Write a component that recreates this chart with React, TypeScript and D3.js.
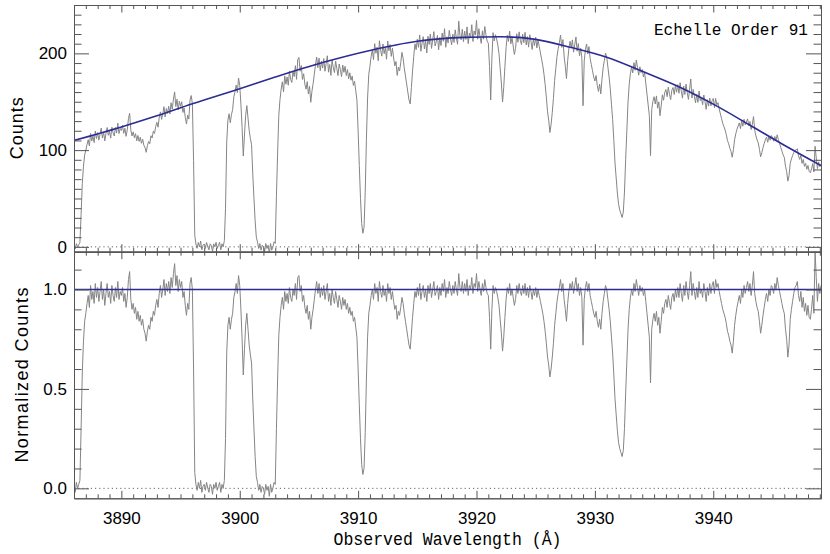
import { useEffect, useRef } from "react";
import * as d3 from "d3";

const WIDTH = 830;
const HEIGHT = 554;

// wavelength grid of the extracted order (Angstrom)
const waveStart = 3886.0;
const waveStep = 0.1;

// normalized counts, one row per Angstrom (3886 ... 3949), 10 samples per row
const normRows: number[][] = [
  [0.01, -0.02, 0.03, 0.0, 0.02, 0.04, 0.3, 0.58, 0.74, 0.84], // 3886
  [0.88, 0.93, 0.97, 0.91, 1.02, 0.95, 0.99, 0.93, 1.03, 0.96],
  [1.01, 0.94, 0.99, 1.04, 0.95, 1.0, 0.92, 0.98, 1.03, 0.96],
  [0.99, 0.93, 1.02, 0.97, 0.94, 1.01, 0.96, 1.04, 0.95, 0.99],
  [0.97, 1.01, 0.94, 0.98, 0.91, 0.96, 1.05, 1.09, 0.95, 0.9], // 3890
  [0.93, 0.88, 0.91, 0.85, 0.89, 0.84, 0.87, 0.82, 0.85, 0.8],
  [0.78, 0.74, 0.79, 0.82, 0.8, 0.86, 0.84, 0.89, 0.87, 0.92],
  [0.95, 0.91, 0.98, 1.02, 0.96, 1.0, 1.05, 0.97, 1.03, 0.99],
  [1.04, 0.98, 1.06, 1.01, 1.08, 1.13, 1.02, 1.07, 0.99, 1.05],
  [1.01, 1.04, 0.96, 0.99, 0.92, 0.87, 0.93, 0.9, 1.03, 1.06], // 3895
  [1.0, 0.6, 0.08, 0.02, -0.01, 0.03, 0.0, 0.04, -0.02, 0.01],
  [0.02, -0.01, 0.03, 0.0, -0.02, 0.02, 0.01, -0.03, 0.02, 0.0],
  [0.03, -0.01, 0.01, 0.03, -0.02, 0.02, 0.0, 0.04, 0.25, 0.68],
  [0.82, 0.86, 0.8, 0.85, 0.88, 0.96, 0.99, 1.03, 0.98, 1.07],
  [1.02, 0.9, 0.75, 0.57, 0.7, 0.82, 0.88, 0.8, 0.72, 0.67], // 3900
  [0.63, 0.45, 0.3, 0.16, 0.06, 0.03, -0.01, 0.02, -0.02, 0.01],
  [0.0, -0.03, 0.02, -0.01, 0.01, -0.04, 0.02, -0.02, 0.0, 0.03],
  [0.02, 0.3, 0.55, 0.77, 0.86, 0.92, 0.96, 0.9, 0.99, 0.94],
  [0.98, 0.93, 1.01, 0.96, 0.94, 1.0, 0.97, 1.03, 0.95, 1.06],
  [1.07, 0.99, 1.02, 0.94, 0.97, 0.91, 0.88, 0.92, 0.85, 0.89], // 3905
  [0.8, 0.86, 0.9, 0.95, 1.0, 1.04, 0.98, 1.03, 0.96, 1.01],
  [0.97, 1.02, 0.95, 0.99, 1.03, 0.94, 0.98, 0.92, 1.0, 0.96],
  [0.93, 0.99, 0.95, 0.91, 0.97, 0.94, 0.9, 0.96, 0.92, 0.95],
  [0.9, 0.93, 0.88, 0.91, 0.87, 0.89, 0.84, 0.86, 0.81, 0.76],
  [0.6, 0.42, 0.25, 0.12, 0.07, 0.1, 0.28, 0.55, 0.76, 0.88], // 3910
  [0.92, 0.97, 1.0, 0.95, 1.03, 0.98, 1.01, 0.94, 1.04, 0.99],
  [0.96, 1.02, 0.97, 1.0, 0.94, 1.03, 0.98, 1.01, 0.95, 0.99],
  [0.94, 0.9, 0.92, 0.85, 0.89, 0.87, 0.91, 0.96, 0.93, 0.88],
  [0.84, 0.8, 0.76, 0.72, 0.7, 0.78, 0.86, 0.93, 0.99, 0.96],
  [1.01, 0.97, 1.03, 0.95, 0.99, 1.02, 0.96, 1.0, 0.94, 1.02], // 3915
  [0.98, 1.03, 0.96, 1.0, 1.04, 0.97, 0.99, 1.02, 0.95, 1.01],
  [0.97, 1.03, 0.99, 1.05, 0.96, 1.01, 0.98, 1.04, 1.0, 0.97],
  [1.02, 0.98, 1.04, 1.0, 0.97, 1.08, 1.01, 0.99, 1.04, 0.98],
  [1.03, 0.99, 1.05, 0.97, 1.02, 1.0, 1.06, 0.98, 1.03, 1.01],
  [1.08, 0.99, 1.04, 1.0, 0.97, 1.03, 0.99, 1.05, 1.01, 0.98], // 3920
  [0.97, 0.86, 0.7, 0.9, 1.02, 0.98, 1.01, 0.99, 0.96, 0.92],
  [0.85, 0.78, 0.69, 0.76, 0.86, 0.95, 1.01, 0.98, 1.03, 0.97],
  [1.0, 0.96, 0.92, 0.95, 1.02, 0.98, 1.03, 0.99, 0.97, 1.02],
  [0.98, 1.03, 0.97, 1.01, 0.96, 1.02, 0.99, 0.95, 1.0, 0.97],
  [1.01, 0.96, 1.0, 0.97, 0.94, 0.91, 0.88, 0.84, 0.79, 0.73], // 3925
  [0.66, 0.62, 0.56, 0.6, 0.66, 0.73, 0.82, 0.88, 0.94, 0.98],
  [1.01, 1.05, 0.99, 1.03, 0.95, 0.9, 0.84, 0.93, 0.99, 1.03],
  [1.0, 1.04, 0.98, 1.02, 1.06, 0.99, 1.03, 0.97, 1.01, 0.96],
  [0.72, 0.95, 1.01, 1.04, 0.99, 1.03, 0.97, 0.94, 0.91, 0.88],
  [0.86, 0.89, 0.84, 0.81, 0.85, 0.8, 0.88, 0.94, 0.98, 1.02], // 3930
  [1.0, 0.95, 0.9, 0.84, 0.76, 0.68, 0.57, 0.45, 0.37, 0.29],
  [0.23, 0.2, 0.18, 0.16, 0.19, 0.3, 0.48, 0.64, 0.8, 0.9],
  [0.96, 1.0, 0.97, 1.03, 0.99, 1.05, 1.01, 0.97, 1.02, 0.99],
  [1.01, 0.97, 1.0, 0.94, 0.88, 0.82, 0.76, 0.53, 0.8, 0.85],
  [0.88, 0.84, 0.89, 0.82, 0.86, 0.78, 0.84, 0.91, 0.88, 0.93], // 3935
  [0.95, 0.91, 0.97, 0.93, 0.9, 0.96, 0.98, 0.94, 1.0, 0.96],
  [1.01, 0.96, 1.03, 0.98, 0.94, 1.02, 0.97, 1.04, 0.99, 0.95],
  [1.02, 1.09, 0.97, 1.03, 0.99, 0.95, 1.01, 0.96, 1.04, 0.98],
  [1.0, 0.96, 1.03, 0.99, 0.94, 1.01, 0.97, 1.03, 0.98, 1.02],
  [1.04, 0.98, 1.05, 1.01, 1.03, 0.99, 0.96, 0.93, 0.9, 0.88], // 3940
  [0.86, 0.83, 0.79, 0.77, 0.74, 0.72, 0.68, 0.74, 0.82, 0.87],
  [0.91, 0.94, 0.97, 0.93, 1.0, 0.96, 1.02, 0.98, 1.01, 1.04],
  [0.99, 1.03, 0.97, 1.02, 1.09, 0.98, 0.94, 0.91, 0.89, 0.84],
  [0.78, 0.82, 0.87, 0.91, 0.95, 0.98, 0.94, 1.0, 0.97, 1.02],
  [1.01, 0.98, 1.03, 1.0, 1.06, 1.02, 0.99, 0.96, 0.93, 0.9], // 3945
  [0.88, 0.8, 0.75, 0.66, 0.72, 0.85, 0.9, 0.94, 0.98, 1.01],
  [1.02, 1.04, 0.97, 0.94, 0.99, 0.91, 0.96, 0.89, 0.93, 0.87],
  [0.92, 0.86, 0.85, 0.9, 0.97, 0.88, 1.19, 1.06, 0.94, 1.03],
  [0.98, 1.02], // 3949
];

// continuum fit (counts)
const contWave = [3886, 3890, 3893, 3896, 3900, 3903, 3907, 3911, 3915, 3919, 3922, 3925, 3928, 3931, 3934, 3937, 3940, 3943, 3946, 3949.1];
const contCounts = [110, 124, 135.5, 148, 163.5, 175.5, 190.5, 203, 212.5, 216.5, 217.2, 214.5, 206, 196, 181.5, 166, 147.5, 126.5, 105, 84];

// axis ticks
const waveMajorTicks = [3890, 3900, 3910, 3920, 3930, 3940];
const countsMajorTicks = [0, 100, 200];
const normMajorTicks = [0, 0.5, 1.0];

const GRAY = "#858585";
const BLUE = "#2c2c96";
const AXIS = "#555555";
const SANS = "'Liberation Sans', Arial, Helvetica, sans-serif";
const MONO = "'Liberation Mono', 'Courier New', monospace";

export default function App() {
  const ref = useRef<SVGSVGElement>(null);

  useEffect(() => {
    const svg = d3.select(ref.current);
    svg.selectAll("*").remove();

    const left = 74;
    const right = 821;
    const top = 5;
    const mid = 251.7;
    const bottom = 498.3;

    const x = d3.scaleLinear().domain([3886, 3949.1]).range([left, right]);
    const yTop = d3.scaleLinear().domain([-5, 250]).range([mid, top]);
    const yBot = d3.scaleLinear().domain([-0.05, 1.19]).range([bottom, mid]);

    const norm = normRows.flat();
    const wave = norm.map((_, i) => waveStart + i * waveStep);
    const cont = d3.scaleLinear().domain(contWave).range(contCounts);
    const counts = norm.map((v, i) => v * cont(wave[i]));

    // clip each panel
    const defs = svg.append("defs");
    defs.append("clipPath").attr("id", "clip-top")
      .append("rect").attr("x", left).attr("y", top).attr("width", right - left).attr("height", mid - top);
    defs.append("clipPath").attr("id", "clip-bot")
      .append("rect").attr("x", left).attr("y", mid).attr("width", right - left).attr("height", bottom - mid);

    // dotted zero lines
    [yTop(0), yBot(0)].forEach((yy) => {
      svg.append("line")
        .attr("x1", left).attr("x2", right)
        .attr("y1", yy).attr("y2", yy)
        .attr("stroke", "#666")
        .attr("stroke-width", 1)
        .attr("stroke-dasharray", "1.2,3");
    });

    // top panel: raw counts + continuum
    svg.append("path")
      .datum(counts)
      .attr("clip-path", "url(#clip-top)")
      .attr("fill", "none")
      .attr("stroke", GRAY)
      .attr("stroke-width", 1)
      .attr("d", d3.line<number>().x((_, i) => x(wave[i])).y((d) => yTop(d)));

    svg.append("path")
      .datum(contWave)
      .attr("clip-path", "url(#clip-top)")
      .attr("fill", "none")
      .attr("stroke", BLUE)
      .attr("stroke-width", 1.6)
      .attr("d", d3.line<number>().x((d) => x(d)).y((_, i) => yTop(contCounts[i])).curve(d3.curveMonotoneX));

    // bottom panel: normalized counts + unity
    svg.append("path")
      .datum(norm)
      .attr("clip-path", "url(#clip-bot)")
      .attr("fill", "none")
      .attr("stroke", GRAY)
      .attr("stroke-width", 1)
      .attr("d", d3.line<number>().x((_, i) => x(wave[i])).y((d) => yBot(d)));

    svg.append("line")
      .attr("x1", left).attr("x2", right)
      .attr("y1", yBot(1)).attr("y2", yBot(1))
      .attr("stroke", BLUE)
      .attr("stroke-width", 1.6);

    // axes (ticks point inward on all four sides)
    const waveMinor = d3.range(3886, 3950, 1).filter((d) => d % 10 !== 0);

    function panelAxes(y: d3.ScaleLinear<number, number>, major: number[], minor: number[], fmt: (d: any) => string, xLabels: boolean) {
      const [y0, y1] = y.range();
      const g = svg.append("g");
      const none = () => "";

      g.append("g").attr("transform", `translate(0,${y0})`)
        .call(d3.axisBottom(x).tickValues(waveMinor).tickSize(-4).tickSizeOuter(0).tickFormat(none));
      g.append("g").attr("transform", `translate(0,${y0})`)
        .call(d3.axisBottom(x).tickValues(waveMajorTicks).tickSize(-7.5).tickSizeOuter(0).tickPadding(14)
          .tickFormat(xLabels ? (d: any) => d3.format("d")(d) : none));
      g.append("g").attr("transform", `translate(0,${y1})`)
        .call(d3.axisTop(x).tickValues(waveMinor).tickSize(-4).tickSizeOuter(0).tickFormat(none));
      g.append("g").attr("transform", `translate(0,${y1})`)
        .call(d3.axisTop(x).tickValues(waveMajorTicks).tickSize(-7.5).tickSizeOuter(0).tickFormat(none));

      g.append("g").attr("transform", `translate(${left},0)`)
        .call(d3.axisLeft(y).tickValues(minor).tickSize(-7.5).tickSizeOuter(0).tickFormat(none));
      g.append("g").attr("transform", `translate(${left},0)`)
        .call(d3.axisLeft(y).tickValues(major).tickSize(-15).tickSizeOuter(0).tickPadding(7).tickFormat(fmt));
      g.append("g").attr("transform", `translate(${right},0)`)
        .call(d3.axisRight(y).tickValues(minor).tickSize(-7.5).tickSizeOuter(0).tickFormat(none));
      g.append("g").attr("transform", `translate(${right},0)`)
        .call(d3.axisRight(y).tickValues(major).tickSize(-15).tickSizeOuter(0).tickFormat(none));

      g.selectAll(".domain, .tick line").attr("stroke", AXIS).attr("stroke-width", 1);
      g.selectAll("text").attr("fill", "#000").style("font-family", SANS).style("font-size", "17px");
    }

    const countsMinor = d3.range(0, 251, 10).filter((d) => d % 100 !== 0);
    const normMinor = d3.range(0, 12).map((d) => d / 10).filter((d) => d !== 0 && d !== 0.5 && d !== 1);

    panelAxes(yTop, countsMajorTicks, countsMinor, (d) => d3.format("d")(d), false);
    panelAxes(yBot, normMajorTicks, normMinor, (d) => d3.format(".1f")(d), true);

    // titles
    svg.append("text")
      .attr("x", 808).attr("y", 35)
      .attr("text-anchor", "end")
      .attr("textLength", 154)
      .attr("lengthAdjust", "spacingAndGlyphs")
      .style("font-family", MONO)
      .style("font-size", "17px")
      .text("Echelle Order 91");

    svg.append("text")
      .attr("x", (left + right) / 2).attr("y", 545)
      .attr("text-anchor", "middle")
      .attr("textLength", 228)
      .attr("lengthAdjust", "spacingAndGlyphs")
      .style("font-family", MONO)
      .style("font-size", "17.5px")
      .text("Observed Wavelength (Å)");

    svg.append("text")
      .attr("transform", `translate(23,${(top + mid) / 2}) rotate(-90)`)
      .attr("text-anchor", "middle")
      .attr("textLength", 62)
      .attr("lengthAdjust", "spacing")
      .style("font-family", SANS)
      .style("font-size", "18px")
      .text("Counts");

    svg.append("text")
      .attr("transform", `translate(28,${(mid + bottom) / 2}) rotate(-90)`)
      .attr("text-anchor", "middle")
      .attr("textLength", 175)
      .attr("lengthAdjust", "spacing")
      .style("font-family", SANS)
      .style("font-size", "18px")
      .text("Normalized Counts");
  }, []);

  return (
    <svg
      ref={ref}
      width={WIDTH}
      height={HEIGHT}
      style={{ position: "absolute", left: 0, top: 0, background: "#fff" }}
    />
  );
}
